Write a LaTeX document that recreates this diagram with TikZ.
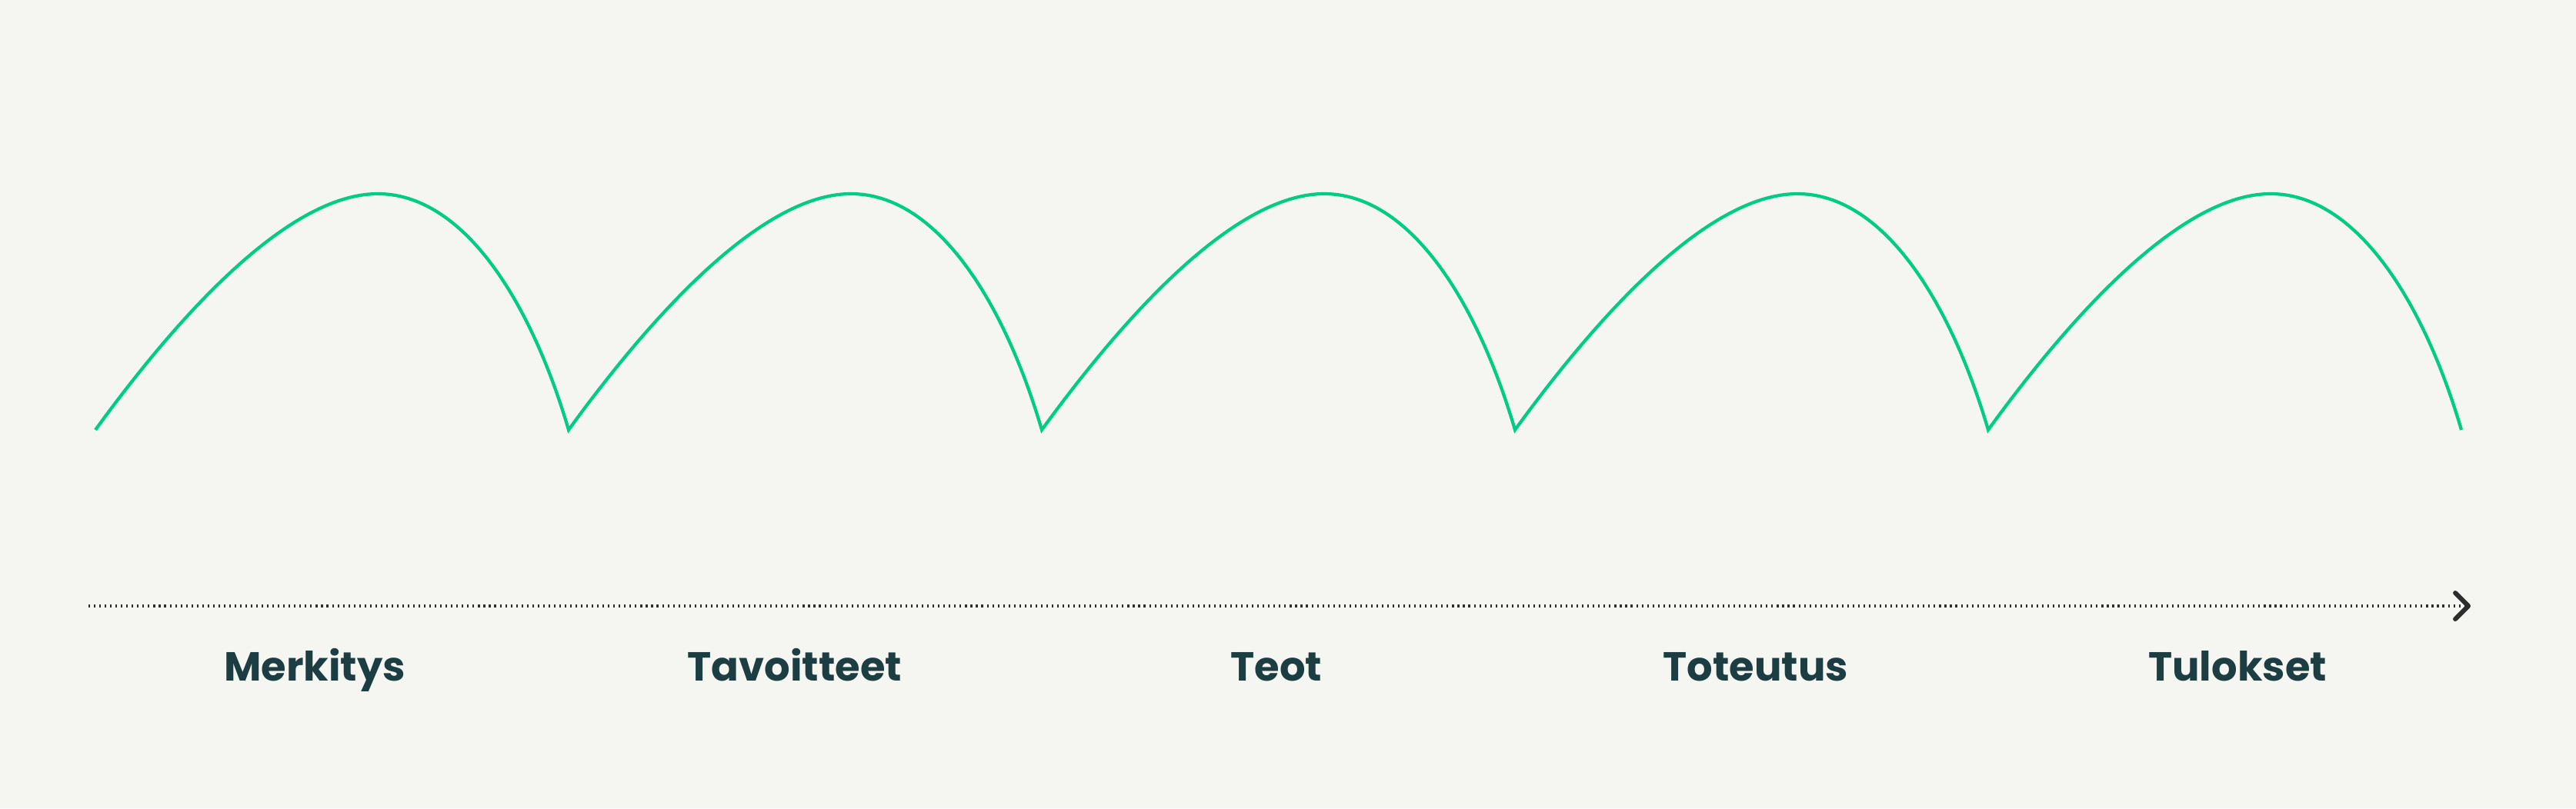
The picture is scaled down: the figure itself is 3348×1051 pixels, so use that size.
\documentclass[tikz,border=0pt]{standalone}
\usepackage{fontspec}
\setmainfont{Poppins}
\begin{document}
\begin{tikzpicture}[x=0.01cm,y=-0.01cm]
\definecolor{bg}{RGB}{245,246,241}
\definecolor{arc}{RGB}{0,204,136}
\definecolor{txt}{RGB}{28,62,66}
\definecolor{axisc}{RGB}{45,45,45}
\tikzset{
  hump/.style={draw=arc, line width=1.2pt, line join=miter},
  lbl/.style={font=\bfseries\fontsize{15}{18}\selectfont, text=txt, anchor=base, inner sep=0pt},
  axisline/.style={draw=axisc, line width=1.4pt, dash pattern=on 0.6pt off 1.4pt},
  axishead/.style={draw=axisc, line width=1.7pt, line cap=round, line join=round}
}
\fill[bg] (0,0) rectangle (3348,1051);
\useasboundingbox (0,0) rectangle (3348,1051);
\draw[hump] (124,559)
  .. controls (224,421) and (371,252) .. (491,252)
  .. controls (601,252) and (689,389) .. (739,559)
  .. controls (839,421) and (986,252) .. (1106,252)
  .. controls (1216,252) and (1304,389) .. (1354,559)
  .. controls (1454,421) and (1601,252) .. (1721,252)
  .. controls (1831,252) and (1919,389) .. (1969,559)
  .. controls (2069,421) and (2216,252) .. (2336,252)
  .. controls (2446,252) and (2534,389) .. (2584,559)
  .. controls (2684,421) and (2831,252) .. (2951,252)
  .. controls (3061,252) and (3149,389) .. (3199,559);
\coordinate (a0) at (115,788);
\coordinate (a1) at (3204,788);
\coordinate (tip) at (3208,788);
\coordinate (h1) at (3191,771);
\coordinate (h2) at (3191,805);
\draw[axisline] (a0) -- (a1);
\draw[axishead] (h1) -- (tip) -- (h2);
\node[lbl] (l1) at (409,885) {Merkitys};
\node[lbl] (l2) at (1033,885) {Tavoitteet};
\node[lbl] (l3) at (1659,885) {Teot};
\node[lbl] (l4) at (2282,885) {Toteutus};
\node[lbl] (l5) at (2908,885) {Tulokset};
\end{tikzpicture}
\end{document}
